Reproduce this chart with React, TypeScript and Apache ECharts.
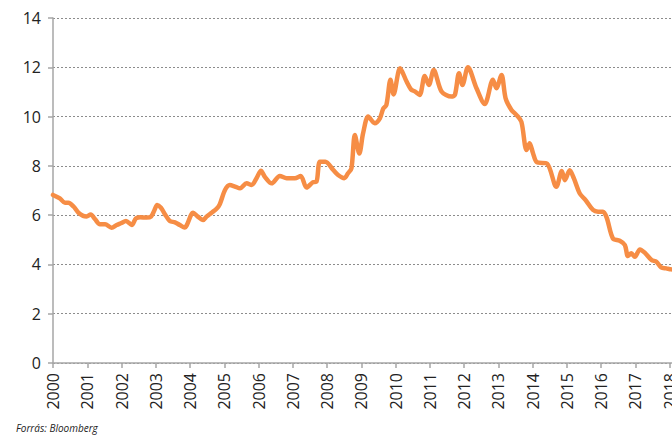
import React, { useEffect, useRef } from "react";
import * as echarts from "echarts";

const years: number[] = [
  2000.0, 2000.2, 2000.35, 2000.45, 2000.6, 2000.74, 2000.88, 2000.98,
  2001.1, 2001.23, 2001.37, 2001.52, 2001.71, 2001.86, 2001.98,
  2002.13, 2002.3, 2002.42, 2002.54, 2002.73, 2002.86, 2002.96,
  2003.04, 2003.15, 2003.27, 2003.41, 2003.56, 2003.7, 2003.84,
  2004.09, 2004.22, 2004.38, 2004.48, 2004.63, 2004.78, 2004.87,
  2005.02, 2005.16, 2005.31, 2005.46, 2005.65, 2005.8, 2005.94,
  2006.07, 2006.18, 2006.38, 2006.62, 2006.82,
  2007.06, 2007.23, 2007.4, 2007.59, 2007.69, 2007.79, 2007.95,
  2008.18, 2008.32, 2008.5, 2008.61, 2008.71, 2008.81, 2008.94,
  2009.05, 2009.2, 2009.39, 2009.54, 2009.64, 2009.73, 2009.85, 2009.94,
  2010.13, 2010.32, 2010.45, 2010.56, 2010.7, 2010.85, 2010.97,
  2011.11, 2011.34, 2011.63, 2011.73, 2011.85, 2011.95,
  2012.11, 2012.36, 2012.6, 2012.84, 2012.94,
  2013.09, 2013.21, 2013.38, 2013.53, 2013.67, 2013.82, 2013.91,
  2014.01, 2014.12, 2014.42, 2014.69, 2014.85, 2014.94,
  2015.08, 2015.2, 2015.37, 2015.55, 2015.76, 2015.91,
  2016.05, 2016.16, 2016.34, 2016.54, 2016.69, 2016.78, 2016.88, 2016.98,
  2017.13, 2017.27, 2017.47, 2017.61, 2017.75, 2017.9,
  2018.05, 2018.15,
];

const values: number[] = [
  6.82, 6.68, 6.5, 6.5, 6.35, 6.1, 5.97, 5.95,
  6.03, 5.83, 5.63, 5.63, 5.49, 5.6, 5.67,
  5.76, 5.6, 5.87, 5.91, 5.9, 5.94, 6.2,
  6.41, 6.3, 6.03, 5.76, 5.71, 5.6, 5.5,
  6.1, 5.95, 5.8, 5.94, 6.1, 6.27, 6.45,
  7.02, 7.22, 7.16, 7.09, 7.29, 7.22, 7.5,
  7.8, 7.56, 7.29, 7.59, 7.5,
  7.5, 7.59, 7.12, 7.34, 7.36, 8.17, 8.17,
  7.83, 7.63, 7.5, 7.7, 7.9, 9.25, 8.5,
  9.32, 10.0, 9.73, 9.93, 10.33, 10.47, 11.49, 10.9,
  11.96, 11.42, 11.1, 11.02, 10.88, 11.65, 11.28,
  11.89, 11.02, 10.81, 10.88, 11.76, 11.28,
  12.0, 11.15, 10.51, 11.49, 11.15,
  11.69, 10.74, 10.27, 10.06, 9.79, 8.64, 8.92,
  8.51, 8.15, 8.09, 7.15, 7.79, 7.42,
  7.82, 7.5, 6.89, 6.6, 6.21, 6.14,
  6.14, 5.9, 5.06, 4.96, 4.79, 4.34, 4.45, 4.31,
  4.61, 4.48, 4.18, 4.11, 3.88, 3.84,
  3.8, 3.78,
];

const xMin = 2000;
const xMax = 2019;
const yMin = 0;
const yMax = 14;
const yStep = 2;
const sourceText = "Forrás: Bloomberg";

export default function App() {
  const ref = useRef<HTMLDivElement>(null);

  useEffect(() => {
    if (!ref.current) return;
    const chart = echarts.init(ref.current, undefined, { renderer: "svg" });
    const font = "'Open Sans', 'DejaVu Sans', sans-serif";
    chart.setOption({
      animation: false,
      backgroundColor: "#ffffff",
      grid: { left: 53, top: 18, bottom: 72, right: 16, containLabel: false },
      xAxis: {
        type: "value",
        min: xMin,
        max: xMax,
        interval: 1,
        axisLine: { show: true, lineStyle: { color: "#a6a6a6", width: 1.5 } },
        axisTick: { show: true, length: 5, lineStyle: { color: "#a6a6a6", width: 1.5 } },
        splitLine: { show: false },
        axisLabel: {
          rotate: 90,
          margin: 10,
          color: "#222222",
          fontSize: 16,
          fontFamily: font,
          formatter: (v: number) => String(Math.round(v)),
        },
      },
      yAxis: {
        type: "value",
        min: yMin,
        max: yMax,
        interval: yStep,
        axisLine: { show: true, lineStyle: { color: "#a6a6a6", width: 1.5 } },
        axisTick: { show: true, length: 5, lineStyle: { color: "#a6a6a6", width: 1.5 } },
        splitLine: {
          show: true,
          lineStyle: { color: "#8c8c8c", width: 1, type: [2, 2] },
        },
        axisLabel: {
          margin: 12,
          color: "#222222",
          fontSize: 16,
          fontFamily: font,
        },
      },
      series: [
        {
          type: "line",
          data: years.map((y, i) => [y, values[i]]),
          showSymbol: false,
          smooth: 0.3,
          lineStyle: { color: "#f68d45", width: 4.5, cap: "round", join: "round" },
          itemStyle: { color: "#f68d45" },
          z: 3,
        },
      ],
      graphic: [
        {
          type: "text",
          left: 16,
          top: 423,
          style: {
            text: sourceText,
            fill: "#222222",
            font: `italic 10px ${font}`,
          },
        },
      ],
    });
    return () => chart.dispose();
  }, []);

  return (
    <div
      style={{
        position: "absolute",
        left: 0,
        top: 0,
        width: 672,
        height: 435,
        overflow: "hidden",
        background: "#fff",
      }}
    >
      <div ref={ref} style={{ width: 720, height: 435 }} />
    </div>
  );
}
